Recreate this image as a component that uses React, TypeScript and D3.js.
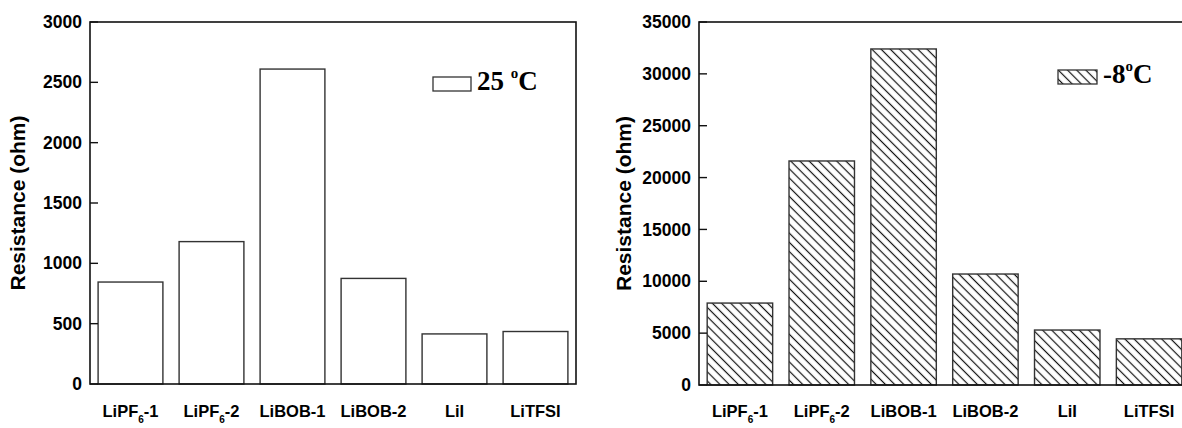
import React from 'react';
import * as d3 from 'd3';

const categories = ['LiPF6-1', 'LiPF6-2', 'LiBOB-1', 'LiBOB-2', 'LiI', 'LiTFSI'];
const values25C = [845, 1180, 2610, 875, 415, 435];
const valuesMinus8C = [7900, 21600, 32400, 10700, 5300, 4450];
const ticks25C = [0, 500, 1000, 1500, 2000, 2500, 3000];
const ticksMinus8C = [0, 5000, 10000, 15000, 20000, 25000, 30000, 35000];

const W = 1182;
const H = 428;
const SANS = 'Liberation Sans, Arial, sans-serif';
const SERIF = 'Liberation Serif, Times New Roman, serif';

function CatLabel({ name, x, y }: { name: string; x: number; y: number }) {
  // LiPF6 gets a subscript 6
  if (name.startsWith('LiPF6')) {
    const rest = name.slice(5);
    return (
      <text x={x} y={y} textAnchor="middle" fontFamily={SANS} fontWeight="bold" fontSize={16.5}>
        LiPF
        <tspan fontSize={10} dy={6}>6</tspan>
        <tspan dy={-6}>{rest}</tspan>
      </text>
    );
  }
  return (
    <text x={x} y={y} textAnchor="middle" fontFamily={SANS} fontWeight="bold" fontSize={16.5}>
      {name}
    </text>
  );
}

function Panel(props: {
  left: number;
  right: number;
  top: number;
  bottom: number;
  max: number;
  ticks: number[];
  values: number[];
  hatched: boolean;
  titleX: number;
  legendX: number;
  legendY: number;
  legendW: number;
  legendText: string;
}) {
  const { left, right, top, bottom, max, ticks, values, hatched } = props;
  const x = d3.scaleBand<string>().domain(categories).range([left, right]).paddingInner(0.2).paddingOuter(0.1);
  const y = d3.scaleLinear().domain([0, max]).range([bottom, top]);
  const fill = hatched ? 'url(#hatch)' : '#fff';
  return (
    <g>
      {values.map((v, i) => (
        <rect
          key={categories[i]}
          x={x(categories[i])}
          y={y(v)}
          width={x.bandwidth()}
          height={y(0) - y(v)}
          fill={fill}
          stroke="#333"
          strokeWidth={1.4}
        />
      ))}
      <rect x={left} y={top} width={right - left} height={bottom - top} fill="none" stroke="#111" strokeWidth={1.6} />
      {ticks.map((t) => (
        <g key={t}>
          <line x1={left} x2={left + 8} y1={y(t)} y2={y(t)} stroke="#111" strokeWidth={1.4} />
          <text x={left - 8} y={y(t)} dy="0.35em" textAnchor="end" fontFamily={SANS} fontWeight="bold" fontSize={17.5}>
            {t}
          </text>
        </g>
      ))}
      {categories.map((c) => (
        <CatLabel key={c} name={c} x={(x(c) as number) + x.bandwidth() / 2} y={417} />
      ))}
      <text
        transform={`translate(${props.titleX},${(top + bottom) / 2}) rotate(-90)`}
        textAnchor="middle"
        fontFamily={SANS}
        fontWeight="bold"
        fontSize={21}
      >
        Resistance (ohm)
      </text>
      <rect
        x={props.legendX}
        y={props.legendY}
        width={props.legendW}
        height={14}
        fill={fill}
        stroke="#333"
        strokeWidth={1.3}
      />
      <text x={props.legendX + props.legendW + 6} y={props.legendY + 13} fontFamily={SERIF} fontWeight="bold" fontSize={27}>
        {props.legendText}
        <tspan fontSize={15} dy={-12}>o</tspan>
        <tspan dy={12}>C</tspan>
      </text>
    </g>
  );
}

export default function App() {
  return (
    <div style={{ position: 'absolute', left: 0, top: 0 }}>
      <svg width={W} height={H} style={{ display: 'block', background: '#fff' }}>
        <defs>
          <pattern id="hatch" patternUnits="userSpaceOnUse" width={6.5} height={6.5} patternTransform="rotate(45)">
            <line x1={0} y1={3.25} x2={6.5} y2={3.25} stroke="#111" strokeWidth={1.2} />
          </pattern>
        </defs>
        <Panel
          left={90}
          right={576}
          top={22}
          bottom={384}
          max={3000}
          ticks={ticks25C}
          values={values25C}
          hatched={false}
          titleX={25}
          legendX={433}
          legendY={77}
          legendW={38}
          legendText="25 "
        />
        <Panel
          left={699}
          right={1190}
          top={22}
          bottom={385}
          max={35000}
          ticks={ticksMinus8C}
          values={valuesMinus8C}
          hatched={true}
          titleX={631}
          legendX={1058}
          legendY={70}
          legendW={39}
          legendText="-8"
        />
      </svg>
    </div>
  );
}
